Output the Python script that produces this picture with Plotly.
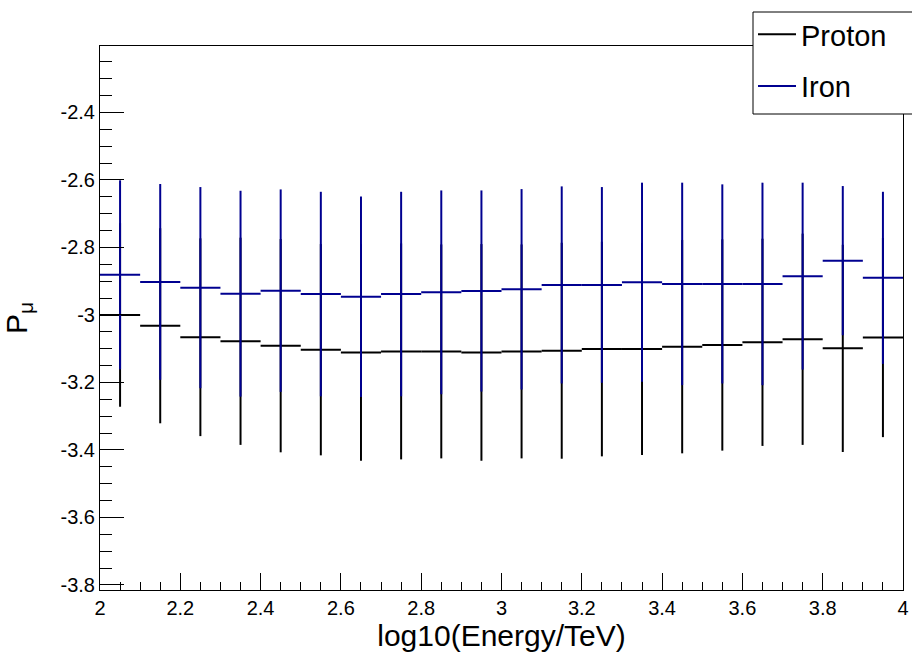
import plotly.graph_objects as go

# bin centres of log10(Energy/TeV)
energy = [2.05, 2.15, 2.25, 2.35, 2.45, 2.55, 2.65, 2.75, 2.85, 2.95,
          3.05, 3.15, 3.25, 3.35, 3.45, 3.55, 3.65, 3.75, 3.85, 3.95]
bin_half_width = [0.05] * 20

proton_mean = [-3.000, -3.032, -3.066, -3.078, -3.091, -3.103, -3.111, -3.108, -3.108, -3.111,
               -3.108, -3.106, -3.101, -3.101, -3.094, -3.089, -3.081, -3.072, -3.099, -3.067]
proton_err = [0.272, 0.289, 0.293, 0.307, 0.316, 0.313, 0.321, 0.320, 0.317, 0.321,
              0.317, 0.320, 0.318, 0.314, 0.316, 0.313, 0.307, 0.313, 0.307, 0.295]

iron_mean = [-2.881, -2.902, -2.919, -2.937, -2.928, -2.938, -2.946, -2.938, -2.933, -2.929,
             -2.924, -2.911, -2.911, -2.903, -2.908, -2.908, -2.908, -2.885, -2.839, -2.890]
iron_err = [0.280, 0.290, 0.298, 0.305, 0.300, 0.303, 0.297, 0.303, 0.302, 0.298,
            0.297, 0.292, 0.290, 0.295, 0.300, 0.295, 0.300, 0.277, 0.221, 0.255]

x_tickvals = [2.0, 2.2, 2.4, 2.6, 2.8, 3.0, 3.2, 3.4, 3.6, 3.8, 4.0]
x_ticktext = ["2", "2.2", "2.4", "2.6", "2.8", "3", "3.2", "3.4", "3.6", "3.8", "4"]
y_tickvals = [-3.8, -3.6, -3.4, -3.2, -3.0, -2.8, -2.6, -2.4]
y_ticktext = ["-3.8", "-3.6", "-3.4", "-3.2", "-3", "-2.8", "-2.6", "-2.4"]

PROTON_COLOR = "#000000"
IRON_COLOR = "#000090"
FONT = "Liberation Sans, Arial, sans-serif"

# plot-area geometry in pixels (used to place the legend box)
L, R, T, B = 100, 903, 46, 590
PW, PH = R - L, B - T

fig = go.Figure()

for name, mean, err, color in [("Proton", proton_mean, proton_err, PROTON_COLOR),
                               ("Iron", iron_mean, iron_err, IRON_COLOR)]:
    fig.add_trace(go.Scatter(
        x=energy, y=mean, mode="markers",
        marker=dict(size=0.1, color=color, opacity=0),
        error_x=dict(type="data", array=bin_half_width, visible=True,
                     color=color, thickness=2, width=0),
        error_y=dict(type="data", array=err, visible=True,
                     color=color, thickness=2, width=0),
        showlegend=False, hoverinfo="x+y",
    ))

# legend entries
for name, color in [("Proton", PROTON_COLOR), ("Iron", IRON_COLOR)]:
    fig.add_trace(go.Scatter(
        x=[None], y=[None], mode="lines", name=name,
        line=dict(color=color, width=2), legendgroup=name,
    ))

# legend frame (extends past the right edge of the canvas, as in the reference)
fig.add_shape(
    type="rect", xref="paper", yref="paper", layer="above",
    x0=(753 - L) / PW, x1=(925 - L) / PW,
    y0=(B - 114) / PH, y1=(B - 12) / PH,
    fillcolor="white", line=dict(color="black", width=1),
)

fig.update_layout(
    width=912, height=654,
    margin=dict(l=L, r=912 - R, t=T, b=654 - B, autoexpand=False),
    paper_bgcolor="white", plot_bgcolor="white",
    font=dict(family=FONT, color="black", size=20),
    legend=dict(
        x=(753 - L) / PW, y=(B - 9) / PH, xanchor="left", yanchor="top",
        bgcolor="rgba(0,0,0,0)", borderwidth=0,
        font=dict(size=29, family=FONT), tracegroupgap=11,
        traceorder="grouped", itemwidth=38,
    ),
)

fig.update_xaxes(
    range=[2, 4], showgrid=False, zeroline=False,
    showline=True, linecolor="black", linewidth=1, mirror=True,
    ticks="inside", ticklen=17, tickwidth=1, tickcolor="black",
    tickmode="array", tickvals=x_tickvals, ticktext=x_ticktext,
    tickfont=dict(size=20),
    minor=dict(ticks="inside", ticklen=8, tickwidth=1, tickcolor="black",
               tickmode="linear", tick0=2.0, dtick=0.05, showgrid=False),
    title=dict(text="log10(Energy/TeV)", font=dict(size=30), standoff=4),
    automargin=False,
)
fig.update_yaxes(
    range=[-3.815, -2.203], showgrid=False, zeroline=False,
    showline=True, linecolor="black", linewidth=1, mirror=True,
    ticks="inside", ticklen=24, tickwidth=1, tickcolor="black",
    tickmode="array", tickvals=y_tickvals, ticktext=y_ticktext,
    tickfont=dict(size=20),
    minor=dict(ticks="inside", ticklen=12, tickwidth=1, tickcolor="black",
               tickmode="linear", tick0=-3.8, dtick=0.05, showgrid=False),
    title=dict(text="P<sub>μ</sub>", font=dict(size=30), standoff=31),
    automargin=False,
)

fig.write_html("out.html")
